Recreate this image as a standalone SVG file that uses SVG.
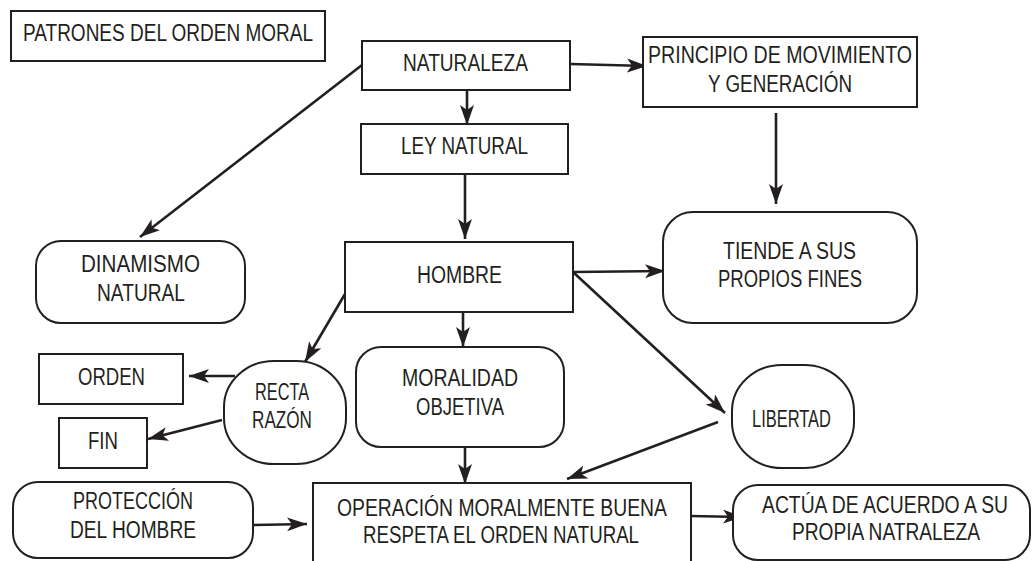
<svg xmlns="http://www.w3.org/2000/svg" width="1032" height="561" viewBox="0 0 1032 561">
<style>
.box{fill:#fff;stroke:#231f20;stroke-width:2}
.t{font-family:"Liberation Sans",Arial,sans-serif;font-size:23px;fill:#231f20;text-anchor:middle}
.c line{stroke:#231f20;stroke-width:2.6;marker-end:url(#ah)}
</style>
<defs>
<marker id="ah" markerUnits="userSpaceOnUse" markerWidth="22" markerHeight="15" refX="20" refY="7" orient="auto">
<path d="M0,0 L20,7 L0,14 L5,7 z" fill="#231f20"/>
</marker>
</defs>
<rect width="1032" height="561" fill="#fff"/>
<g class="c" id="connectors">
<line x1="362" y1="65" x2="140" y2="237"/>
<line x1="467" y1="90" x2="467" y2="125"/>
<line x1="465" y1="174" x2="465" y2="239"/>
<line x1="570" y1="64" x2="647" y2="66"/>
<line x1="776" y1="113" x2="776" y2="204"/>
<line x1="573" y1="272" x2="665" y2="271"/>
<line x1="573" y1="272" x2="725" y2="413"/>
<line x1="345" y1="294" x2="305" y2="362"/>
<line x1="463" y1="309" x2="463" y2="347"/>
<line x1="235" y1="376" x2="189" y2="376"/>
<line x1="222" y1="420" x2="148" y2="439"/>
<line x1="465" y1="447" x2="465" y2="484"/>
<line x1="718" y1="422" x2="567" y2="479"/>
<line x1="253" y1="525" x2="307" y2="524"/>
<line x1="690" y1="516" x2="743" y2="517"/>
</g>
<g id="title">
<rect class="box" x="11" y="11" width="314" height="50"/>
<text class="t" x="168" y="41" font-size="20.5" textLength="290" lengthAdjust="spacingAndGlyphs">PATRONES DEL ORDEN MORAL</text>
</g>
<g id="naturaleza">
<rect class="box" x="362" y="41" width="208" height="49"/>
<text class="t" x="465.5" y="71" textLength="125" lengthAdjust="spacingAndGlyphs">NATURALEZA</text>
</g>
<g id="ley">
<rect class="box" x="361" y="124" width="207" height="50"/>
<text class="t" x="464.5" y="154" textLength="127" lengthAdjust="spacingAndGlyphs">LEY NATURAL</text>
</g>
<g id="principio">
<rect class="box" x="643" y="37" width="274" height="70"/>
<text class="t" x="780" y="63" font-size="21.5" textLength="264" lengthAdjust="spacingAndGlyphs">PRINCIPIO DE MOVIMIENTO</text>
<text class="t" x="780" y="92" font-size="21.5" textLength="144" lengthAdjust="spacingAndGlyphs">Y GENERACIÓN</text>
</g>
<g id="tiende">
<rect class="box" x="663" y="212" width="254" height="111" rx="30" ry="30"/>
<text class="t" x="789.5" y="259" textLength="133" lengthAdjust="spacingAndGlyphs">TIENDE A SUS</text>
<text class="t" x="790" y="287" textLength="144" lengthAdjust="spacingAndGlyphs">PROPIOS FINES</text>
</g>
<g id="hombre">
<rect class="box" x="345" y="242" width="228" height="70"/>
<text class="t" x="459.5" y="283" textLength="85" lengthAdjust="spacingAndGlyphs">HOMBRE</text>
</g>
<g id="dinamismo">
<rect class="box" x="36" y="241" width="209" height="82" rx="25" ry="25"/>
<text class="t" x="140.5" y="272" textLength="119" lengthAdjust="spacingAndGlyphs">DINAMISMO</text>
<text class="t" x="141" y="301" textLength="88" lengthAdjust="spacingAndGlyphs">NATURAL</text>
</g>
<g id="orden">
<rect class="box" x="39" y="354" width="144" height="50"/>
<text class="t" x="111.5" y="385" textLength="67" lengthAdjust="spacingAndGlyphs">ORDEN</text>
</g>
<g id="fin">
<rect class="box" x="59" y="418" width="88" height="50"/>
<text class="t" x="103" y="449" textLength="30" lengthAdjust="spacingAndGlyphs">FIN</text>
</g>
<g id="recta">
<rect class="box" x="224" y="361" width="122" height="103" rx="50" ry="46"/>
<text class="t" x="282" y="400" textLength="54" lengthAdjust="spacingAndGlyphs">RECTA</text>
<text class="t" x="282" y="428" textLength="60" lengthAdjust="spacingAndGlyphs">RAZÓN</text>
</g>
<g id="moralidad">
<rect class="box" x="356" y="347" width="208" height="100" rx="25" ry="25"/>
<text class="t" x="460" y="386" textLength="116" lengthAdjust="spacingAndGlyphs">MORALIDAD</text>
<text class="t" x="460" y="415" textLength="88" lengthAdjust="spacingAndGlyphs">OBJETIVA</text>
</g>
<g id="libertad">
<rect class="box" x="732" y="365" width="122" height="103" rx="50" ry="46"/>
<text class="t" x="791.5" y="427" textLength="79" lengthAdjust="spacingAndGlyphs">LIBERTAD</text>
</g>
<g id="proteccion">
<rect class="box" x="13" y="482" width="240" height="76" rx="25" ry="25"/>
<text class="t" x="133" y="509" textLength="120" lengthAdjust="spacingAndGlyphs">PROTECCIÓN</text>
<text class="t" x="133" y="538" textLength="126" lengthAdjust="spacingAndGlyphs">DEL HOMBRE</text>
</g>
<g id="operacion">
<rect class="box" x="313" y="483" width="378" height="100"/>
<text class="t" x="502" y="516" textLength="330" lengthAdjust="spacingAndGlyphs">OPERACIÓN MORALMENTE BUENA</text>
<text class="t" x="501" y="543" textLength="276" lengthAdjust="spacingAndGlyphs">RESPETA EL ORDEN NATURAL</text>
</g>
<g id="actua">
<rect class="box" x="733" y="485" width="297" height="75" rx="25" ry="25"/>
<text class="t" x="885" y="513" textLength="246" lengthAdjust="spacingAndGlyphs">ACTÚA DE ACUERDO A SU</text>
<text class="t" x="886" y="540" textLength="188" lengthAdjust="spacingAndGlyphs">PROPIA NATRALEZA</text>
</g>
</svg>
